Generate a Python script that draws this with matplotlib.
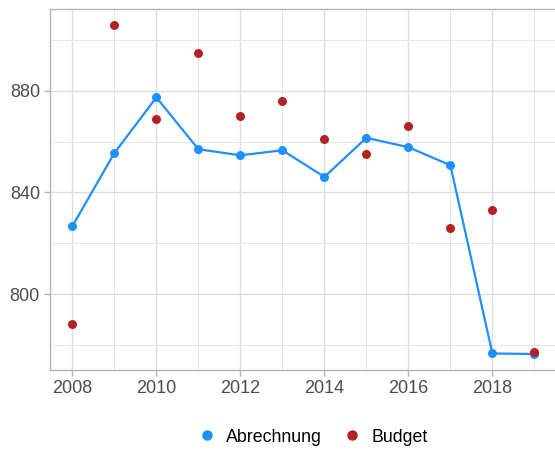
import matplotlib
matplotlib.use("Agg")
import matplotlib.pyplot as plt
from matplotlib.lines import Line2D
from matplotlib.ticker import MultipleLocator

plt.rcParams['font.family'] = ['Liberation Sans', 'DejaVu Sans']

years = [2008, 2009, 2010, 2011, 2012, 2013, 2014, 2015, 2016, 2017, 2018, 2019]
abrechnung = [826.7, 855.5, 877.4, 857.0, 854.6, 856.6, 846.1, 861.5, 857.8, 850.7, 776.6, 776.4]
budget = [788.1, 906.0, 869.0, 895.0, 870.0, 876.1, 861.1, 855.1, 866.1, 826.1, 833.2, 777.0]
x_ticks = [2008, 2010, 2012, 2014, 2016, 2018]
y_ticks = [800, 840, 880]
series_names = ["Abrechnung", "Budget"]

W, H = 555, 450
fig = plt.figure(figsize=(W / 100, H / 100), dpi=100)
left, top, bottom = 49.7, 9, 370
xlim = (2007.46, 2019.55)
ax_w = (xlim[1] - xlim[0]) * 42.0
ax = fig.add_axes([left / W, (H - bottom) / H, ax_w / W, (bottom - top) / H])

blue = "#1E90FF"
red = "#B22222"

ax.plot(years, abrechnung, color=blue, lw=1.6, zorder=3)
ax.scatter(years, abrechnung, s=42, color=blue, zorder=4, linewidths=0)
ax.scatter(years, budget, s=42, color=red, zorder=5, linewidths=0)

ax.set_xlim(*xlim)
ax.set_ylim(770.1, 912.2)
ax.set_xticks(x_ticks)
ax.set_yticks(y_ticks)
ax.xaxis.set_minor_locator(MultipleLocator(1))
ax.yaxis.set_minor_locator(MultipleLocator(20))

ax.grid(which='major', color='#DEDEDE', lw=1.0, zorder=0)
ax.grid(which='minor', color='#E6E6E6', lw=0.7, zorder=0)
ax.set_axisbelow(True)

for s in ax.spines.values():
    s.set_color('#B3B3B3')
    s.set_linewidth(1.0)
ax.spines['right'].set_visible(False)

ax.tick_params(which='major', length=4, width=1.0, color='#B3B3B3',
               labelsize=13, labelcolor='#4D4D4D', pad=3)
ax.tick_params(which='minor', length=0)

handles = [Line2D([], [], marker='o', ls='none', color=blue, markersize=6.5),
           Line2D([], [], marker='o', ls='none', color=red, markersize=6.5)]
fig.legend(handles, series_names, loc='center', bbox_to_anchor=(312 / W, 1 - 437 / H),
           ncol=2, frameon=False, fontsize=12.8, handletextpad=0.5,
           columnspacing=1.1, handlelength=1.2)

fig.savefig("out.png", dpi=100)
